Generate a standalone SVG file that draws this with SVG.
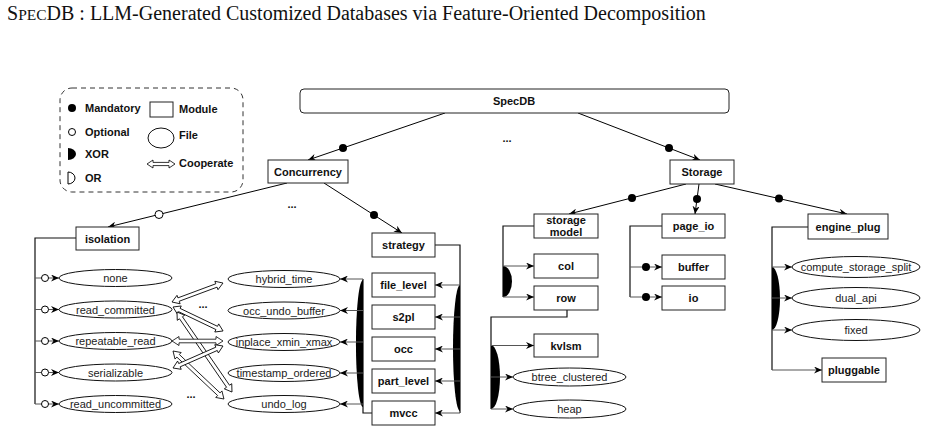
<svg xmlns="http://www.w3.org/2000/svg" width="926" height="432" viewBox="0 0 926 432">
<defs>
<style>
.box{fill:#fff;stroke:#222;stroke-width:1}
.file{fill:#fff;stroke:#111;stroke-width:1}
.lbl{font-family:"Liberation Sans",Arial,sans-serif;font-size:11px;font-weight:bold;text-anchor:middle;fill:#111}
.ftxt{font-family:"Liberation Sans",Arial,sans-serif;font-size:11px;text-anchor:middle;fill:#222}
.leg{font-family:"Liberation Sans",Arial,sans-serif;font-size:11px;font-weight:bold;fill:#111}
.edge{fill:none;stroke:#000;stroke-width:1}
.tree{fill:none;stroke:#111;stroke-width:1.2}
.sub{fill:none;stroke:#555;stroke-width:1}
.xor{fill:#000}
.mand{fill:#000}
.opt{fill:#fff;stroke:#000;stroke-width:1}
.coop{fill:#fff;stroke:#000;stroke-width:0.8}
</style>
<marker id="arr" viewBox="0 0 8 7" refX="8" refY="3.5" markerWidth="8" markerHeight="7" markerUnits="userSpaceOnUse" orient="auto">
<path d="M0,0 L8,3.5 L0,7 L2.5,3.5 Z" fill="#000"/>
</marker>
</defs>

<text x="7" y="20" font-family="'Liberation Serif','Times New Roman',serif" font-size="20" fill="#111">S<tspan font-size="15.5">PEC</tspan>DB : LLM-Generated Customized Databases via Feature-Oriented Decomposition</text>

<g id="legend">
<rect x="60" y="88" width="183" height="104" rx="12" fill="none" stroke="#333" stroke-dasharray="5,4"/>
<circle cx="72" cy="108" r="4" class="mand"/>
<text x="85" y="112" class="leg">Mandatory</text>
<circle cx="72" cy="132" r="3.5" class="opt"/>
<text x="85" y="136" class="leg">Optional</text>
<path d="M68,148 A8,6 0 0 1 68,160 Z" class="xor"/>
<text x="85" y="158" class="leg">XOR</text>
<path d="M68,172 A7,6 0 0 1 68,184 Z" fill="#fff" stroke="#000"/>
<text x="85" y="182" class="leg">OR</text>
<rect x="150" y="102" width="23" height="15" class="box"/>
<text x="179" y="113" class="leg">Module</text>
<ellipse cx="161" cy="138" rx="13" ry="10" class="file"/>
<text x="179" y="139" class="leg">File</text>
<path transform="translate(147,164)" d="M0,0 L6,-4 L6,-1.6 L22,-1.6 L22,-4 L28,0 L22,4 L22,1.6 L6,1.6 L6,4 Z" class="coop"/>
<text x="179" y="167" class="leg">Cooperate</text>
</g>

<g id="connectors">
<line x1="445" y1="113" x2="308" y2="160" class="edge" marker-end="url(#arr)"/>
<circle cx="343" cy="148" r="4" class="mand"/>
<line x1="578" y1="113" x2="700" y2="160" class="edge" marker-end="url(#arr)"/>
<circle cx="669" cy="148" r="4" class="mand"/>
<line x1="287" y1="183" x2="108" y2="227" class="edge" marker-end="url(#arr)"/>
<circle cx="159" cy="214.5" r="4" class="opt"/>
<line x1="324" y1="183" x2="402" y2="233" class="edge" marker-end="url(#arr)"/>
<circle cx="374" cy="215" r="4" class="mand"/>
<line x1="686" y1="184" x2="569" y2="214" class="edge" marker-end="url(#arr)"/>
<circle cx="632" cy="198" r="4" class="mand"/>
<line x1="699" y1="184" x2="695" y2="214" class="edge" marker-end="url(#arr)"/>
<circle cx="697" cy="199" r="4" class="mand"/>
<line x1="715" y1="184" x2="847" y2="214" class="edge" marker-end="url(#arr)"/>
<circle cx="779" cy="198.5" r="4" class="mand"/>

<path d="M76,238 H35 V404" class="tree"/>
<line x1="35" y1="278" x2="59" y2="278" class="sub" marker-end="url(#arr)"/>
<line x1="35" y1="309.5" x2="59" y2="309.5" class="sub" marker-end="url(#arr)"/>
<line x1="35" y1="341" x2="59" y2="341" class="sub" marker-end="url(#arr)"/>
<line x1="35" y1="372.5" x2="59" y2="372.5" class="sub" marker-end="url(#arr)"/>
<line x1="35" y1="404" x2="59" y2="404" class="sub" marker-end="url(#arr)"/>
<circle cx="45" cy="278" r="3.5" class="opt"/>
<circle cx="45" cy="309.5" r="3.5" class="opt"/>
<circle cx="45" cy="341" r="3.5" class="opt"/>
<circle cx="45" cy="372.5" r="3.5" class="opt"/>
<circle cx="45" cy="404" r="3.5" class="opt"/>

<path d="M372,413 H363 V279" class="tree"/>
<path d="M363,280 A7,63 0 0 0 363,407 Z" class="xor"/>
<line x1="363" y1="279" x2="340" y2="279" class="sub" marker-end="url(#arr)"/>
<line x1="363" y1="310.5" x2="340" y2="310.5" class="sub" marker-end="url(#arr)"/>
<line x1="363" y1="342" x2="340" y2="342" class="sub" marker-end="url(#arr)"/>
<line x1="363" y1="373" x2="340" y2="373" class="sub" marker-end="url(#arr)"/>
<line x1="363" y1="404" x2="340" y2="404" class="sub" marker-end="url(#arr)"/>

<path d="M435,245 H460 V413" class="tree"/>
<path d="M460,285 A7,63 0 0 0 460,411 Z" class="xor"/>
<line x1="460" y1="285" x2="435" y2="285" class="sub" marker-end="url(#arr)"/>
<line x1="460" y1="317" x2="435" y2="317" class="sub" marker-end="url(#arr)"/>
<line x1="460" y1="349" x2="435" y2="349" class="sub" marker-end="url(#arr)"/>
<line x1="460" y1="381" x2="435" y2="381" class="sub" marker-end="url(#arr)"/>
<line x1="460" y1="413" x2="435" y2="413" class="sub" marker-end="url(#arr)"/>

<path d="M534,226 H503 V297" class="tree"/>
<path d="M503,266 A9,15.5 0 0 1 503,297 Z" class="xor"/>
<line x1="503" y1="266" x2="534" y2="266" class="sub" marker-end="url(#arr)"/>
<line x1="503" y1="297" x2="534" y2="297" class="sub" marker-end="url(#arr)"/>

<path d="M567,310 V317 H491 V409" class="tree"/>
<path d="M491,345 A9,32 0 0 1 491,409 Z" class="xor"/>
<line x1="491" y1="345.5" x2="534" y2="345.5" class="sub" marker-end="url(#arr)"/>
<line x1="491" y1="377" x2="513" y2="377" class="sub" marker-end="url(#arr)"/>
<line x1="491" y1="409" x2="513" y2="409" class="sub" marker-end="url(#arr)"/>

<path d="M662,226 H630 V297" class="tree"/>
<line x1="630" y1="267" x2="662" y2="267" class="sub" marker-end="url(#arr)"/>
<line x1="630" y1="297" x2="662" y2="297" class="sub" marker-end="url(#arr)"/>
<circle cx="646" cy="267" r="4" class="mand"/>
<circle cx="646" cy="297" r="4" class="mand"/>

<path d="M808,227 H772 V370" class="tree"/>
<path d="M772,267 A8,31.5 0 0 1 772,330 Z" class="xor"/>
<line x1="772" y1="267" x2="792" y2="267" class="sub" marker-end="url(#arr)"/>
<line x1="772" y1="298" x2="792" y2="298" class="sub" marker-end="url(#arr)"/>
<line x1="772" y1="330" x2="792" y2="330" class="sub" marker-end="url(#arr)"/>
<line x1="772" y1="370" x2="822" y2="370" class="sub" marker-end="url(#arr)"/>

<path transform="translate(172,302) rotate(-20.4)" d="M0,0 L7,-4.5 L7,-1.8 L47.4,-1.8 L47.4,-4.5 L54.4,0 L47.4,4.5 L47.4,1.8 L7,1.8 L7,4.5 Z" class="coop"/>
<path transform="translate(173,307) rotate(25.6)" d="M0,0 L7,-4.5 L7,-1.8 L48.5,-1.8 L48.5,-4.5 L55.5,0 L48.5,4.5 L48.5,1.8 L7,1.8 L7,4.5 Z" class="coop"/>
<path transform="translate(177,312) rotate(55.5)" d="M0,0 L7,-4.5 L7,-1.8 L90.1,-1.8 L90.1,-4.5 L97.1,0 L90.1,4.5 L90.1,1.8 L7,1.8 L7,4.5 Z" class="coop"/>
<path transform="translate(172,341)" d="M0,0 L7,-4.5 L7,-1.8 L44,-1.8 L44,-4.5 L51,0 L44,4.5 L44,1.8 L7,1.8 L7,4.5 Z" class="coop"/>
<path transform="translate(173,351) rotate(43.3)" d="M0,0 L7,-4.5 L7,-1.8 L63,-1.8 L63,-4.5 L70,0 L63,4.5 L63,1.8 L7,1.8 L7,4.5 Z" class="coop"/>
<path transform="translate(173,368) rotate(-23.75)" d="M0,0 L7,-4.5 L7,-1.8 L47.6,-1.8 L47.6,-4.5 L54.6,0 L47.6,4.5 L47.6,1.8 L7,1.8 L7,4.5 Z" class="coop"/>
</g>

<g id="dots">
<text x="507" y="142" class="lbl">...</text>
<text x="292" y="208" class="lbl">...</text>
<text x="203" y="308" class="lbl">...</text>
<text x="191" y="398" class="lbl">...</text>
</g>

<g id="specdb"><rect x="300" y="89" width="429" height="24" rx="4" class="box"/><text x="514" y="105" class="lbl">SpecDB</text></g>
<g id="concurrency"><rect x="268" y="160" width="80" height="23" class="box"/><text x="308" y="175.5" class="lbl">Concurrency</text></g>
<g id="storage"><rect x="670" y="160" width="64" height="24" class="box"/><text x="702" y="176" class="lbl">Storage</text></g>
<g id="isolation"><rect x="76" y="227" width="63" height="23" class="box"/><text x="107.5" y="242.5" class="lbl">isolation</text></g>
<g id="strategy"><rect x="372" y="233" width="63" height="24" class="box"/><text x="403.5" y="249" class="lbl">strategy</text></g>
<g id="file_level"><rect x="372" y="273" width="63" height="24" class="box"/><text x="403.5" y="289" class="lbl">file_level</text></g>
<g id="s2pl"><rect x="372" y="305" width="63" height="24" class="box"/><text x="403.5" y="321" class="lbl">s2pl</text></g>
<g id="occ"><rect x="372" y="337" width="63" height="24" class="box"/><text x="403.5" y="353" class="lbl">occ</text></g>
<g id="part_level"><rect x="372" y="369" width="63" height="24" class="box"/><text x="403.5" y="385" class="lbl">part_level</text></g>
<g id="mvcc"><rect x="372" y="401" width="63" height="24" class="box"/><text x="403.5" y="417" class="lbl">mvcc</text></g>

<g id="none"><ellipse cx="115.5" cy="278" rx="56.5" ry="8.5" class="file"/><text x="115.5" y="282" class="ftxt">none</text></g>
<g id="read_committed"><ellipse cx="115.5" cy="309.5" rx="56.5" ry="8.5" class="file"/><text x="115.5" y="313.5" class="ftxt">read_committed</text></g>
<g id="repeatable_read"><ellipse cx="115.5" cy="341" rx="56.5" ry="8.5" class="file"/><text x="115.5" y="345" class="ftxt">repeatable_read</text></g>
<g id="serializable"><ellipse cx="115.5" cy="372.5" rx="56.5" ry="8.5" class="file"/><text x="115.5" y="376.5" class="ftxt">serializable</text></g>
<g id="read_uncommitted"><ellipse cx="115.5" cy="404" rx="56.5" ry="8.5" class="file"/><text x="115.5" y="408" class="ftxt">read_uncommitted</text></g>

<g id="hybrid_time"><ellipse cx="284" cy="279" rx="56" ry="8.5" class="file"/><text x="284" y="283" class="ftxt">hybrid_time</text></g>
<g id="occ_undo_buffer"><ellipse cx="284" cy="310.5" rx="56" ry="8.5" class="file"/><text x="284" y="314.5" class="ftxt">occ_undo_buffer</text></g>
<g id="inplace_xmin_xmax"><ellipse cx="284" cy="342" rx="56" ry="8.5" class="file"/><text x="284" y="346" class="ftxt">inplace_xmin_xmax</text></g>
<g id="timestamp_ordered"><ellipse cx="284" cy="373" rx="56" ry="8.5" class="file"/><text x="284" y="377" class="ftxt">timestamp_ordered</text></g>
<g id="undo_log"><ellipse cx="284" cy="404" rx="56" ry="8.5" class="file"/><text x="284" y="408" class="ftxt">undo_log</text></g>

<g id="storage_model"><rect x="534" y="214" width="64" height="24" class="box"/><text x="566" y="224" class="lbl">storage</text><text x="566" y="235.5" class="lbl">model</text></g>
<g id="col"><rect x="534" y="254" width="64" height="24" class="box"/><text x="566" y="270" class="lbl">col</text></g>
<g id="row"><rect x="534" y="286" width="64" height="24" class="box"/><text x="566" y="301.5" class="lbl">row</text></g>
<g id="kvlsm"><rect x="534" y="334" width="64" height="23" class="box"/><text x="566" y="349.5" class="lbl">kvlsm</text></g>
<g id="btree_clustered"><ellipse cx="569.5" cy="377" rx="56.5" ry="9" class="file"/><text x="569.5" y="381" class="ftxt">btree_clustered</text></g>
<g id="heap"><ellipse cx="569.5" cy="409" rx="56.5" ry="9" class="file"/><text x="569.5" y="413" class="ftxt">heap</text></g>

<g id="page_io"><rect x="662" y="214" width="63" height="24" class="box"/><text x="693.5" y="230" class="lbl">page_io</text></g>
<g id="buffer"><rect x="662" y="255" width="63" height="24" class="box"/><text x="693.5" y="271" class="lbl">buffer</text></g>
<g id="io"><rect x="662" y="286" width="63" height="24" class="box"/><text x="693.5" y="302" class="lbl">io</text></g>

<g id="engine_plug"><rect x="808" y="214" width="80" height="25" class="box"/><text x="848" y="230.5" class="lbl">engine_plug</text></g>
<g id="compute_storage_split"><ellipse cx="856" cy="267" rx="64" ry="10.5" class="file"/><text x="856" y="271" class="ftxt">compute_storage_split</text></g>
<g id="dual_api"><ellipse cx="856" cy="298" rx="64" ry="10.5" class="file"/><text x="856" y="302" class="ftxt">dual_api</text></g>
<g id="fixed"><ellipse cx="856" cy="330" rx="64" ry="10.5" class="file"/><text x="856" y="334" class="ftxt">fixed</text></g>
<g id="pluggable"><rect x="822" y="358" width="64" height="24" class="box"/><text x="854" y="374" class="lbl">pluggable</text></g>
</svg>
